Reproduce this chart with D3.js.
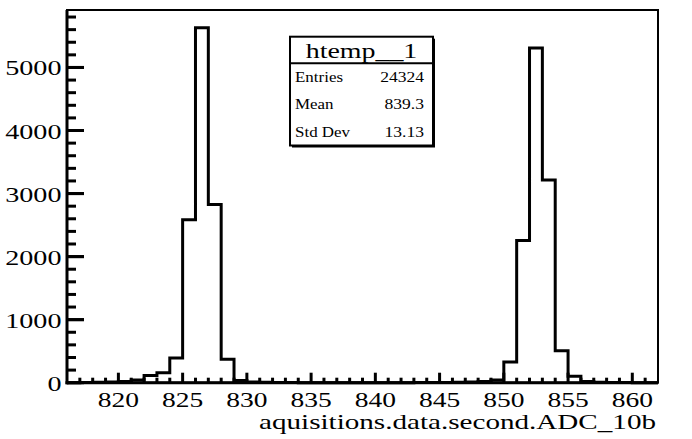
<!DOCTYPE html>
<html>
<head>
<meta charset="utf-8">
<script src="https://cdn.jsdelivr.net/npm/d3@7"></script>
<style>
html,body{margin:0;padding:0;background:#fff;}
svg{display:block;}
</style>
</head>
<body>
<svg id="chart" width="692" height="439"></svg>
<script>
// ---- data ----
const binStarts = d3.range(816, 862);           // bin low edges, width 1
const counts = [
  0, 3, 6, 10, 18, 42, 113, 158, 390, 2583,      // 816-825
  5630, 2826, 371, 35, 12, 6, 3, 2, 1, 1,        // 826-835
  0, 0, 0, 0, 0, 1, 1, 2, 3, 5,                  // 836-845
  8, 12, 18, 42, 330, 2254, 5308, 3217, 508, 104,// 846-855
  18, 8, 4, 2, 1, 0                              // 856-861
];
const xMajorTicks = [820, 825, 830, 835, 840, 845, 850, 855, 860];
const yMajorTicks = [0, 1000, 2000, 3000, 4000, 5000];
const xTitle = "aquisitions.data.second.ADC_10b";
const statsTitle = "htemp__1";
const statsLabels = ["Entries", "Mean", "Std Dev"];
const statsValues = ["24324", "839.3", "13.13"];

// ---- layout ----
const FONT = "'Liberation Serif', 'Times New Roman', Tinos, 'DejaVu Serif', serif";
const L = 67, R = 658, T = 10, B = 382.7;
const svg = d3.select("#chart");
const x = d3.scaleLinear().domain([816, 862]).range([L, R]);
const y = d3.scaleLinear().domain([0, 1.05 * d3.max(counts)]).range([B, T]);
const SX = 1.25;

function stext(g, tx, ty, str, size, anchor, sx) {
  return g.append("text")
    .attr("transform", `translate(${tx},${ty}) scale(${sx},1)`)
    .attr("text-anchor", anchor)
    .attr("font-family", FONT)
    .attr("font-size", size)
    .attr("fill", "#000")
    .text(str);
}

// histogram outline
let p = d3.path();
p.moveTo(x(binStarts[0]), y(counts[0]));
binStarts.forEach((b, i) => {
  if (i > 0) p.lineTo(x(b), y(counts[i]));
  p.lineTo(x(b + 1), y(counts[i]));
});
svg.append("path").attr("d", p.toString())
  .attr("fill", "none").attr("stroke", "#000").attr("stroke-width", 3)
  .attr("stroke-linejoin", "miter");

// frame
svg.append("rect").attr("x", L).attr("y", T).attr("width", R - L).attr("height", B - T)
  .attr("fill", "none").attr("stroke", "#000").attr("stroke-width", 2);

// axes lines
svg.append("line").attr("x1", L).attr("x2", L).attr("y1", T).attr("y2", B + 1.5)
  .attr("stroke", "#000").attr("stroke-width", 3);
svg.append("line").attr("x1", L - 1.5).attr("x2", R).attr("y1", B).attr("y2", B)
  .attr("stroke", "#000").attr("stroke-width", 3);

// x ticks
const xMinor = d3.range(817, 862);
const gx = svg.append("g");
xMinor.forEach(v => {
  const major = xMajorTicks.includes(v);
  gx.append("line").attr("x1", x(v)).attr("x2", x(v))
    .attr("y1", B).attr("y2", B - (major ? 10 : 5))
    .attr("stroke", "#000").attr("stroke-width", 3);
});
xMajorTicks.forEach(v => stext(gx, x(v), 406.5, String(v), 22, "middle", SX));

// y ticks
const yMinor = d3.range(200, 6000, 200);
const gy = svg.append("g");
yMinor.forEach(v => {
  if (y(v) < T + 1) return;
  const major = yMajorTicks.includes(v);
  gy.append("line").attr("x1", L).attr("x2", L + (major ? 17 : 9))
    .attr("y1", y(v)).attr("y2", y(v))
    .attr("stroke", "#000").attr("stroke-width", 3);
});
yMajorTicks.forEach(v => gy.append("line").attr("x1", L).attr("x2", L + 17)
  .attr("y1", y(v)).attr("y2", y(v)).attr("stroke", "#000").attr("stroke-width", 3));
yMajorTicks.forEach(v => stext(gy, 61.5, y(v) + 8, String(v), 22, "end", 1.28));

// x title fitted to width
const xt = svg.append("text").attr("font-family", FONT).attr("font-size", 22)
  .attr("fill", "#000").text(xTitle);
const w0 = xt.node().getComputedTextLength();
const sxT = 397 / w0;
xt.attr("text-anchor", "end").attr("transform", `translate(656,428.5) scale(${sxT},1)`);

// stats box
const bx0 = 290, by0 = 36.7, bx1 = 433, by1 = 145.5, sep = 63.3;
svg.append("rect").attr("x", bx0 + 2).attr("y", by0 + 2).attr("width", bx1 - bx0).attr("height", by1 - by0)
  .attr("fill", "#000");
svg.append("rect").attr("x", bx0).attr("y", by0).attr("width", bx1 - bx0).attr("height", by1 - by0)
  .attr("fill", "#fff").attr("stroke", "#000").attr("stroke-width", 2);
svg.append("line").attr("x1", bx0).attr("x2", bx1).attr("y1", sep).attr("y2", sep)
  .attr("stroke", "#000").attr("stroke-width", 2);
const gs = svg.append("g");
stext(gs, (bx0 + bx1) / 2, 58, statsTitle, 22, "middle", 1.27);
const rowH = (by1 - sep) / statsLabels.length;
statsLabels.forEach((lab, i) => {
  const cy = sep + rowH * (i + 0.5);
  stext(gs, 295, cy + 5, lab, 15, "start", 1.13);
  stext(gs, 424, cy + 5, statsValues[i], 15, "end", 1.17);
});
</script>
</body>
</html>
